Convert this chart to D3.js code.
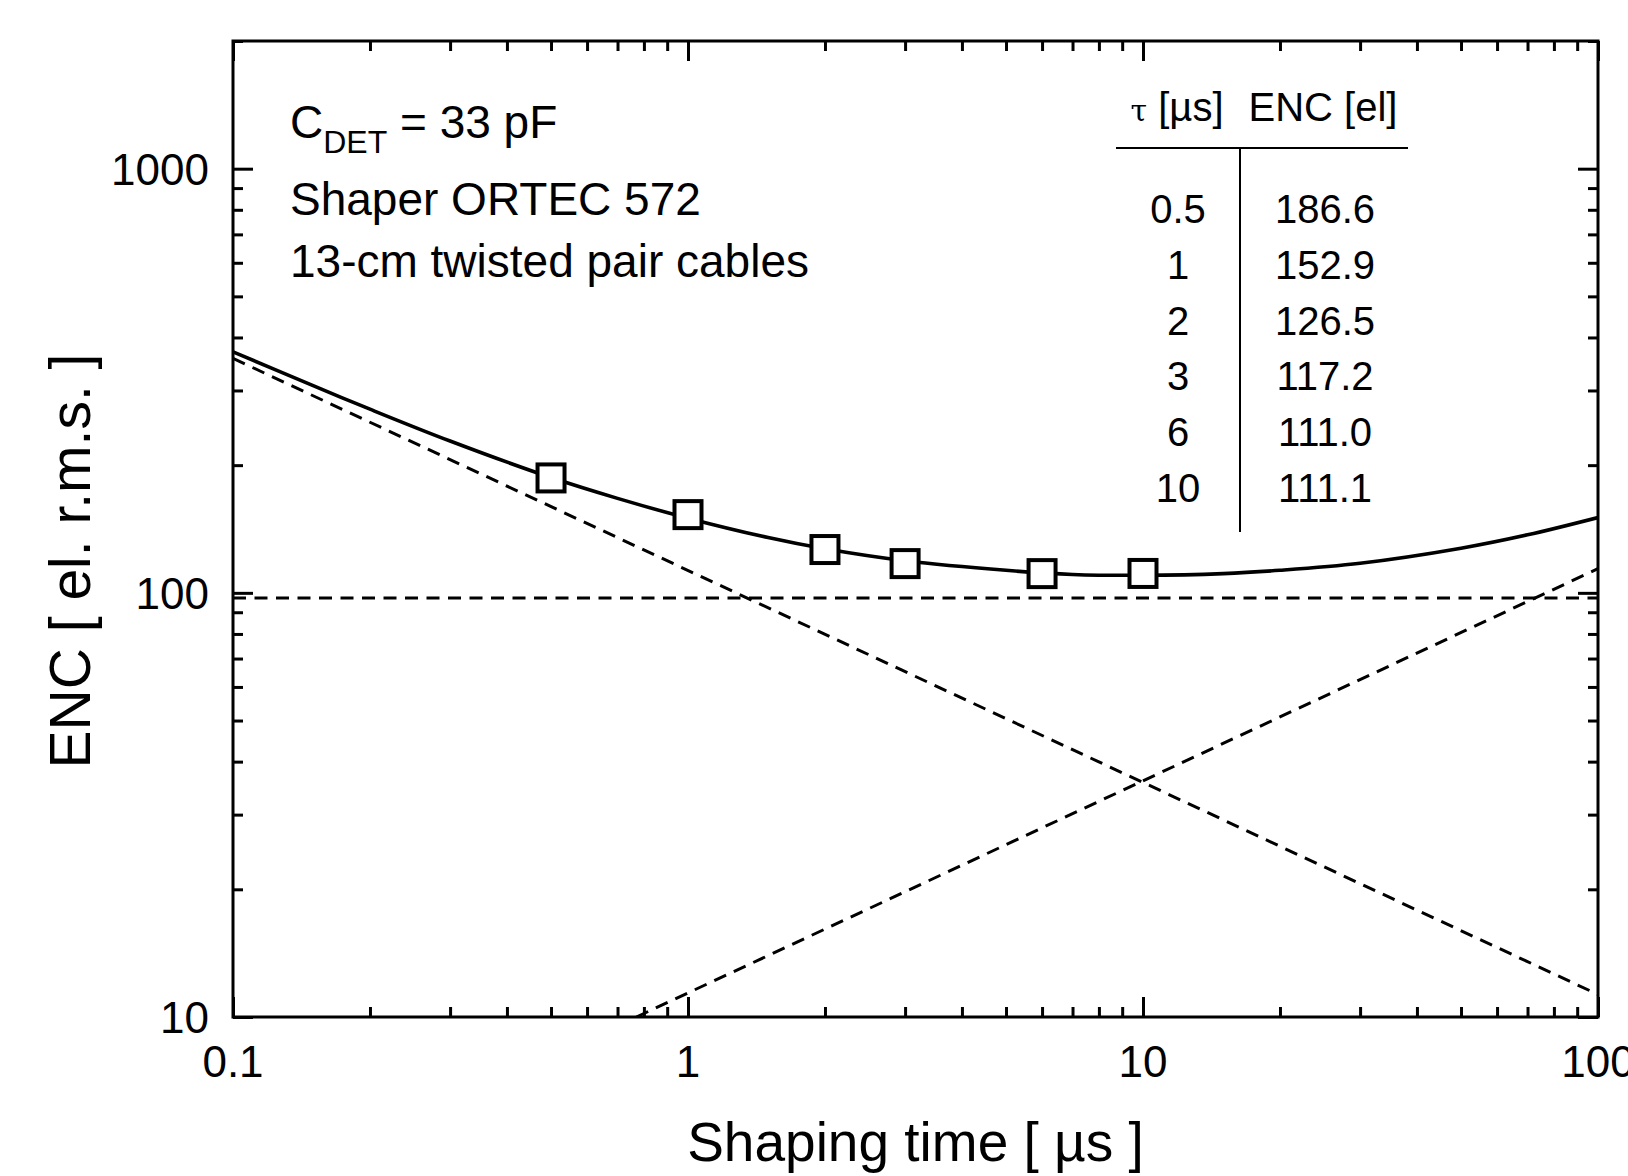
<!DOCTYPE html>
<html>
<head>
<meta charset="utf-8">
<script src="https://cdn.jsdelivr.net/npm/d3@7"></script>
<style>
  body { margin: 0; background: #fff; }
  svg { display: block; font-family: "Liberation Sans", Arial, sans-serif; }
</style>
</head>
<body>
<svg id="chart" width="1628" height="1176"></svg>
<script>
// measured points (shaping time in us, ENC in electrons)
var tauPoints = [0.5, 1, 2, 3, 6, 10];
var encPoints = [186.6, 152.9, 126.5, 117.2, 111.0, 111.1];

// total noise curve
var totalTau = [0.1, 0.15, 0.2, 0.3, 0.5, 0.7, 1, 1.5, 2, 3, 5, 7, 10, 15, 20, 30, 50, 70, 100];
var totalEnc = [370, 308, 271, 228, 187, 167, 150, 135, 127, 119, 113, 110.5, 110, 111, 113, 117.4, 127.4, 137, 150.5];

// dashed components
var seriesTau = [0.1, 100],  seriesEnc = [357, 11.3];
var flatTau = [0.1, 100],    flatEnc = [97.3, 97.3];
var parTau = [0.77, 100],    parEnc = [10, 114];

var xMajor = [0.1, 1, 10, 100];
var yMajor = [10, 100, 1000];

var notes = ["Shaper ORTEC 572", "13-cm twisted pair cables"];

var svg = d3.select("#chart");
var pL = 233, pR = 1598, pT = 41, pB = 1017;

var x = d3.scaleLog().domain([0.1, 100]).range([pL, pR]);
var y = d3.scaleLog().domain([10, 2000]).range([pB, pT]);

function minors(lo, hi) {
  var out = [];
  for (var p = lo; p < hi; p *= 10)
    for (var k = 2; k <= 9; k++) out.push(p * k);
  return out;
}
var xMinor = minors(0.1, 100);
var yMinor = minors(10, 1000).concat([2000]);

var axes = svg.append("g");
function tickGroup(axis, tr) {
  var g = axes.append("g").attr("transform", tr).call(axis);
  g.select(".domain").remove();
  g.selectAll(".tick line").attr("stroke", "#000").attr("stroke-width", 3);
  g.selectAll("text").remove();
}
// inward ticks on all four sides
tickGroup(d3.axisBottom(x).tickValues(xMajor).tickSize(-20), "translate(0," + pB + ")");
tickGroup(d3.axisBottom(x).tickValues(xMinor).tickSize(-10), "translate(0," + pB + ")");
tickGroup(d3.axisTop(x).tickValues(xMajor).tickSize(-20), "translate(0," + pT + ")");
tickGroup(d3.axisTop(x).tickValues(xMinor).tickSize(-10), "translate(0," + pT + ")");
tickGroup(d3.axisLeft(y).tickValues(yMajor).tickSize(-20), "translate(" + pL + ",0)");
tickGroup(d3.axisLeft(y).tickValues(yMinor).tickSize(-10), "translate(" + pL + ",0)");
tickGroup(d3.axisRight(y).tickValues(yMajor).tickSize(-20), "translate(" + pR + ",0)");
tickGroup(d3.axisRight(y).tickValues(yMinor).tickSize(-10), "translate(" + pR + ",0)");

// tick labels
svg.append("g").selectAll("text").data(xMajor).join("text")
  .attr("x", function(d) { return x(d); })
  .attr("y", 1077)
  .attr("text-anchor", "middle")
  .style("font-size", "44px")
  .text(function(d) { return d; });

svg.append("g").selectAll("text").data(yMajor).join("text")
  .attr("x", 209)
  .attr("y", function(d) { return y(d); })
  .attr("dy", "0.36em")
  .attr("text-anchor", "end")
  .style("font-size", "44px")
  .text(function(d) { return d; });

// axis titles
svg.append("text")
  .attr("x", (pL + pR) / 2)
  .attr("y", 1161)
  .attr("text-anchor", "middle")
  .style("font-size", "55px")
  .text("Shaping time [ µs ]");

svg.append("text")
  .attr("transform", "translate(90,561) rotate(-90)")
  .attr("text-anchor", "middle")
  .style("font-size", "57px")
  .text("ENC [ el. r.m.s. ]");

// curves
svg.append("clipPath").attr("id", "plot")
  .append("rect").attr("x", pL).attr("y", pT)
  .attr("width", pR - pL).attr("height", pB - pT);

var line = d3.line()
  .x(function(d) { return x(d[0]); })
  .y(function(d) { return y(d[1]); });

var plot = svg.append("g").attr("clip-path", "url(#plot)");

[[seriesTau, seriesEnc], [flatTau, flatEnc], [parTau, parEnc]].forEach(function(s) {
  plot.append("path")
    .datum(d3.zip(s[0], s[1]))
    .attr("d", line)
    .attr("fill", "none")
    .attr("stroke", "#000")
    .attr("stroke-width", 3)
    .attr("stroke-dasharray", "13,8.5");
});

plot.append("path")
  .datum(d3.zip(totalTau, totalEnc))
  .attr("d", line.curve(d3.curveCatmullRom))
  .attr("fill", "none")
  .attr("stroke", "#000")
  .attr("stroke-width", 3.6);

svg.append("g").selectAll("rect").data(d3.zip(tauPoints, encPoints)).join("rect")
  .attr("x", function(d) { return x(d[0]) - 13.5; })
  .attr("y", function(d) { return y(d[1]) - 13.5; })
  .attr("width", 27)
  .attr("height", 27)
  .attr("fill", "#fff")
  .attr("stroke", "#000")
  .attr("stroke-width", 4);

// frame
svg.append("rect")
  .attr("x", pL).attr("y", pT)
  .attr("width", pR - pL).attr("height", pB - pT)
  .attr("fill", "none").attr("stroke", "#000").attr("stroke-width", 3);

// notes
var c = svg.append("text").attr("x", 290).attr("y", 138).style("font-size", "46px");
c.append("tspan").text("C");
c.append("tspan").attr("dy", 15).style("font-size", "32px").text("DET");
c.append("tspan").attr("dy", -15).text(" = 33 pF");

svg.append("g").selectAll("text").data(notes).join("text")
  .attr("x", 290)
  .attr("y", function(d, i) { return 215 + i * 62; })
  .style("font-size", "46px")
  .text(function(d) { return d; });

// table of values
var tbl = svg.append("g").style("font-size", "40px");
var hdr = tbl.append("text").attr("x", 1177).attr("y", 121).attr("text-anchor", "middle");
hdr.append("tspan").style("font-family", "'DejaVu Serif', serif").style("font-size", "30px").text("τ");
hdr.append("tspan").text(" [µs]");
tbl.append("text").attr("x", 1323).attr("y", 121).attr("text-anchor", "middle").text("ENC [el]");

tbl.append("line").attr("x1", 1116).attr("x2", 1408).attr("y1", 148).attr("y2", 148)
  .attr("stroke", "#000").attr("stroke-width", 2);
tbl.append("line").attr("x1", 1240).attr("x2", 1240).attr("y1", 148).attr("y2", 532)
  .attr("stroke", "#000").attr("stroke-width", 2);

tbl.selectAll(".tau").data(tauPoints).join("text")
  .attr("class", "tau")
  .attr("x", 1178)
  .attr("y", function(d, i) { return 223 + i * 55.8; })
  .attr("text-anchor", "middle")
  .text(function(d) { return d; });

tbl.selectAll(".enc").data(encPoints).join("text")
  .attr("class", "enc")
  .attr("x", 1325)
  .attr("y", function(d, i) { return 223 + i * 55.8; })
  .attr("text-anchor", "middle")
  .text(function(d) { return d.toFixed(1); });
</script>
</body>
</html>
